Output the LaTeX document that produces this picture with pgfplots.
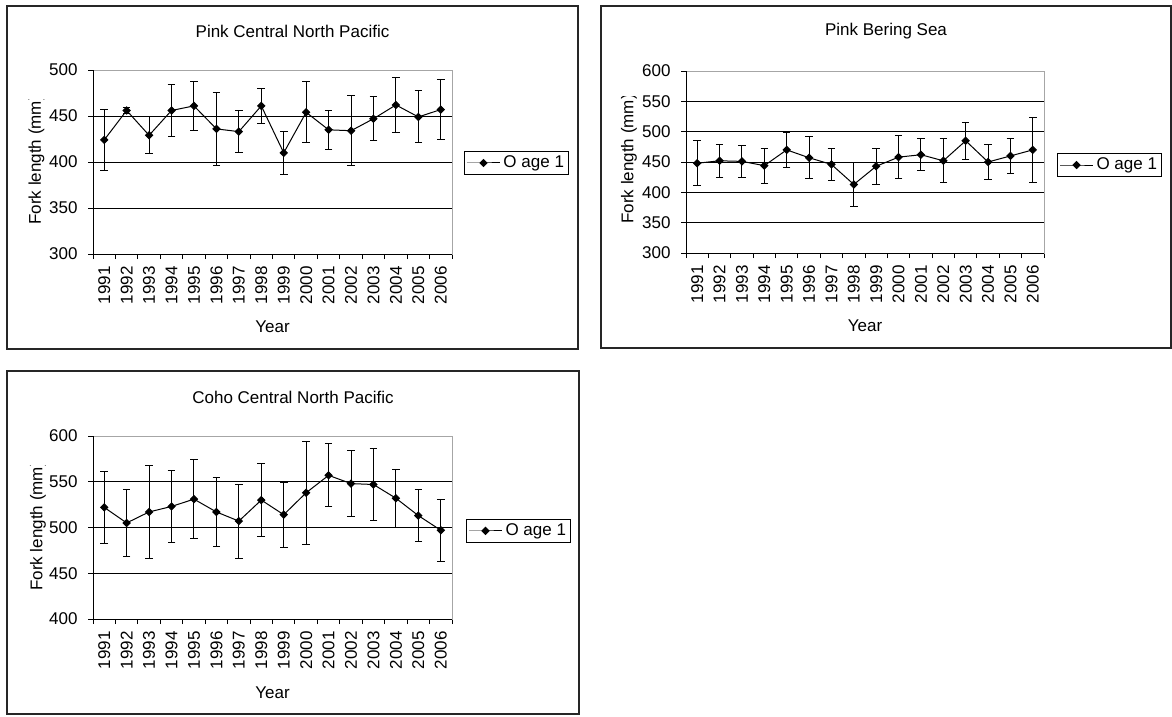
\documentclass[border=0pt]{standalone}
\usepackage{pgfplots}
\pgfplotsset{compat=1.18}
\usepackage{pgfplotstable}
\usepackage{fontspec}
\setmainfont{Liberation Sans}

\pgfplotstableread{
x y e
1 424 33
2 456 3.5
3 429 20
4 456 28.5
5 461 26.5
6 436 40
7 433 22.8
8 461 19.4
9 410 23.3
10 454 33
11 435 21.3
12 434 37.8
13 447 24
14 462 29.6
15 449 28.3
16 457 33
}\pinkcnp

\pgfplotstableread{
x y e
1 448 37
2 452 27
3 451 27
4 444 29
5 470 28.5
6 457 35
7 446 27
8 413 35.6
9 443 30
10 458 35
11 462 26
12 452 36
13 485 30.5
14 450 29
15 460 29
16 470 54
}\pinkbs

\pgfplotstableread{
x y e
1 522 39.5
2 505 36.5
3 517 51
4 523 39
5 531 43
6 517 37.5
7 507 40.5
8 530 39.5
9 514 35.5
10 538 56.5
11 557 34.5
12 548 36.5
13 547 39
14 532 31.5
15 513 28
16 497 34
}\cohocnp

\newcommand{\fs}{\fontsize{8.5}{10}\selectfont}

\pgfplotsset{
  fishaxis/.style={
    scale only axis,
    xmin=0.5, xmax=16.5,
    xtick={0.5,1.5,...,16.5},
    xticklabels={},
    extra x ticks={1,2,...,16},
    extra x tick labels={1991,1992,1993,1994,1995,1996,1997,1998,1999,2000,2001,2002,2003,2004,2005,2006},
    extra x tick style={major tick length=0pt, grid=none,
      xticklabel style={yshift=-6pt, rotate=90, anchor=east, inner sep=0pt}},
    tick pos=left,
    tick align=outside,
    major tick length=2.5pt,
    tick style={black, line width=0.5pt},
    ymajorgrids,
    grid style={black, line width=0.5pt},
    axis line style={gray!70, line width=0.5pt},
    every tick label/.append style={font=\fs},
    yticklabel style={anchor=east, inner sep=0pt, xshift=-5pt},
    /pgf/number format/assume math mode=true,
    legend style={anchor=west, draw=black, line width=0.5pt, inner xsep=1pt, inner ysep=0.5pt,
      font=\fs, nodes={inner sep=1.5pt}},
    legend image code/.code={\draw[mark repeat=2, mark phase=2] plot coordinates {(0pt,0pt) (8.25pt,0pt) (16.5pt,0pt)};},
  },
  fishplot/.style={black, line width=0.5pt, mark=square*, mark size=1.25pt,
    mark options={rotate=45, fill=black, solid},
    error bars/.cd, y dir=both, y explicit,
    error bar style={line width=0.5pt, black},
    error mark options={rotate=90, mark size=1.9pt, line width=0.5pt, black}},
}

\begin{document}
\begin{tikzpicture}
\path[use as bounding box] (0,0) rectangle (586pt,-358.5pt);

% Panel 1  (plot area 93..452 x 70..254 px; 1px = 0.5pt)
\begin{axis}[fishaxis, at={(46.5pt,-127pt)}, anchor=south west, width=179.5pt, height=92pt,
  ymin=300, ymax=500, ytick={300,350,...,500},
  legend style={at={(1.0334,0.4946)}}]
\addplot+[fishplot] table[x=x, y=y, y error=e] {\pinkcnp};
\addlegendentry{O age 1}
\draw[black, line width=0.5pt] (rel axis cs:0,1) -- (rel axis cs:0,0) -- (rel axis cs:1,0);
\end{axis}

% Panel 2  (plot area 686..1044 x 71..253 px)
\begin{axis}[fishaxis, at={(343pt,-126.5pt)}, anchor=south west, width=179pt, height=91pt,
  ymin=300, ymax=600, ytick={300,350,...,600},
  legend style={at={(1.0363,0.4835)}}]
\addplot+[fishplot] table[x=x, y=y, y error=e] {\pinkbs};
\addlegendentry{O age 1}
\draw[black, line width=0.5pt] (rel axis cs:0,1) -- (rel axis cs:0,0) -- (rel axis cs:1,0);
\end{axis}

% Panel 3  (plot area 93..452 x 436..619 px)
\begin{axis}[fishaxis, at={(46.5pt,-309.5pt)}, anchor=south west, width=179.5pt, height=91.5pt,
  ymin=400, ymax=600, ytick={400,450,...,600},
  legend style={at={(1.039,0.481)}}]
\addplot+[fishplot] table[x=x, y=y, y error=e] {\cohocnp};
\addlegendentry{O age 1}
\draw[black, line width=0.5pt] (rel axis cs:0,1) -- (rel axis cs:0,0) -- (rel axis cs:1,0);
\end{axis}

\begin{scope}[x=0.5pt, y=-0.5pt]
% frames
\draw[line width=1pt, black!85] (7,6) rectangle (578,349);
\draw[line width=1pt, black!85] (601,6) rectangle (1171,348);
\draw[line width=1pt, black!85] (7,371) rectangle (579,714);

\node[font=\fs] at (292.5,31) {Pink Central North Pacific};
\node[font=\fs] at (272.5,327) {Year};
\begin{scope}
\clip (10,100) rectangle (80,250);
\node[font=\fs, rotate=90] at (36.6,160) {Fork length (mm)};
\end{scope}

\node[font=\fs] at (886,31) {Pink Bering Sea};
\node[font=\fs] at (865,326) {Year};
\begin{scope}
\clip (604,97) rectangle (670,250);
\node[font=\fs, rotate=90] at (629,159) {Fork length (mm)};
\end{scope}

\node[font=\fs] at (293,397) {Coho Central North Pacific};
\node[font=\fs] at (272.5,693) {Year};
\begin{scope}
\clip (10,465) rectangle (80,615);
\node[font=\fs, rotate=90] at (38,526) {Fork length (mm)};
\end{scope}
\end{scope}
\end{tikzpicture}
\end{document}
